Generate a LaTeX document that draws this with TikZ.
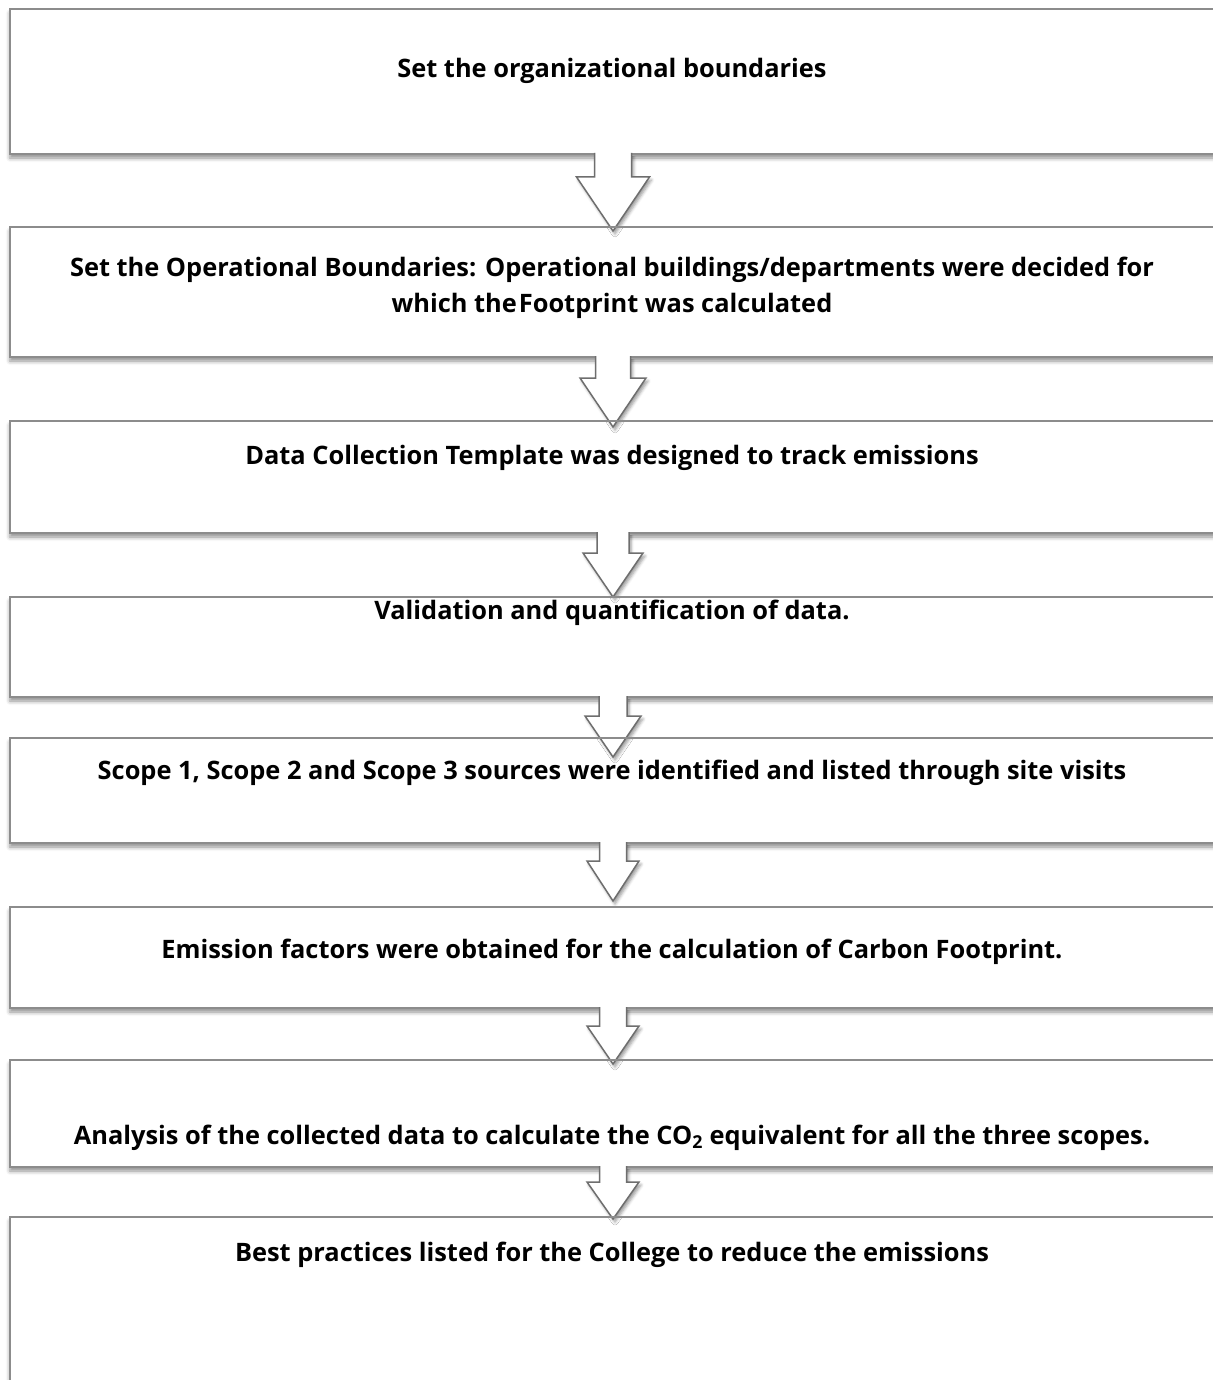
\documentclass[tikz,border=0pt]{standalone}
\usepackage{fontspec}
\setmainfont{Open Sans}
\usetikzlibrary{shadows.blur}
\definecolor{boxgray}{RGB}{140,140,140}
\definecolor{arrowgray}{RGB}{110,110,110}
\tikzset{
  stepbox/.style={draw=boxgray, line width=1.6pt, fill=white, outer sep=0pt,
    minimum width=1206, anchor=north west,
    blur shadow={shadow xshift=0pt, shadow yshift=-4pt, shadow blur radius=4pt, shadow opacity=45}},
  boxline/.style={draw=boxgray, line width=1.6pt},
  steptext/.style={font=\fontsize{25.4}{36}\selectfont\bfseries, align=center, inner sep=0pt},
  flowarrow/.style={draw=arrowgray, line width=1.5pt, fill=white, line join=miter,
    blur shadow={shadow xshift=2pt, shadow yshift=-3pt, shadow blur radius=3pt, shadow opacity=40}},
}
\begin{document}
\begin{tikzpicture}[x=1pt, y=-1pt]
	\useasboundingbox (0,0) rectangle (1212,1380);
	% boxes: number/top/bottom
	\foreach \n/\t/\b in {1/9/154, 2/227/357, 3/421/533, 4/597/697, 5/738/843, 6/907/1008, 7/1060/1167, 8/1217/1400}
	\node[stepbox, minimum height=\b-\t] (b\n) at (10,\t) {};
	
	% block arrows: from/shoulder/tip/shaft/head
	\foreach \n/\s/\t/\w/\h in {1/23/77/18.5/36.5, 2/21/70/17.5/33, 3/20/64/16/30, 4/19/60/14/28, 5/18/58/13.5/26, 6/18/56/13.5/26, 7/15/52/13.5/26}
	\draw[flowarrow] ([xshift=-\w, yshift=1]b\n.south) -- ++(0,\s+1) -- ++(\w-\h,0) -- ++(\h,\t-\s) -- ++(\h,\s-\t) -- ++(\w-\h,0) -- ++(0,-\s-1);
	
	% top edges over the arrow tips
	\foreach \n in {2,...,8}
	\draw[boxline] (b\n.north west) -- (b\n.north east);
	
	\node[steptext] (t1) at (612,71) {Set the organizational boundaries};
	\node[steptext] (t2) at (612,288) {Set the Operational Boundaries: Operational buildings/departments were decided for\\ which the\hspace{2pt}Footprint was calculated};
	\node[steptext] (t3) at (612,458) {Data Collection Template was designed to track emissions};
	\node[steptext] (t4) at (612,613) {Validation and quantification of data.};
	\node[steptext] (t5) at (612,773) {Scope 1, Scope 2 and Scope 3 sources were identified and listed through site visits};
	\node[steptext] (t6) at (612,952) {Emission factors were obtained for the calculation of Carbon Footprint.};
	\node[steptext] (t7) at (612,1138) {Analysis of the collected data to calculate the CO\textsubscript{2} equivalent for all the three scopes.};
	\node[steptext] (t8) at (612,1255) {Best practices listed for the College to reduce the emissions};
\end{tikzpicture}
\end{document}
